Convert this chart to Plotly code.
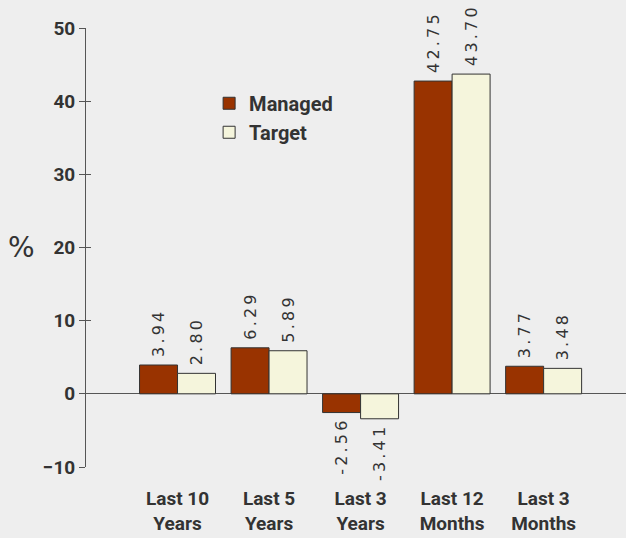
import plotly.graph_objects as go

categories = ["Last 10<br>Years", "Last 5<br>Years", "Last 3<br>Years", "Last 12<br>Months", "Last 3<br>Months"]
managed = [3.94, 6.29, -2.56, 42.75, 3.77]
target = [2.80, 5.89, -3.41, 43.70, 3.48]
y_ticks = [-10, 0, 10, 20, 30, 40, 50]

BG = "#eeeeee"
INK = "#333333"
AXIS = "#555555"
TICK_FONT = "Roboto, Liberation Sans, sans-serif"
PAD = "\u00a0"
GAP = "\u2009"


def spaced(values, fmt):
    # letter-spaced value labels, padded so they sit a little off the bar end
    return [PAD + GAP.join(fmt.format(v)) + PAD for v in values]


label_font = dict(family="DejaVu Sans, sans-serif", size=16, color=INK)

fig = go.Figure()
fig.add_trace(go.Bar(
    name="Managed", x=categories, y=managed,
    marker=dict(color="#993300", line=dict(color=INK, width=1)),
    text=spaced(managed, "{:.2f}"), textposition="outside", textangle=-90,
    textfont=label_font, cliponaxis=False, constraintext="none",
))
fig.add_trace(go.Bar(
    name="Target", x=categories, y=target,
    marker=dict(color="#f5f5dc", line=dict(color=INK, width=1)),
    text=spaced(target, "{:.2f}"), textposition="outside", textangle=-90,
    textfont=label_font, cliponaxis=False, constraintext="none",
))
# invisible trace to carry the inner half of the cross ticks
fig.add_trace(go.Scatter(x=[categories[0]], y=[0], yaxis="y2", mode="markers",
                         marker=dict(opacity=0), showlegend=False, hoverinfo="skip"))

fig.update_layout(
    width=626, height=538,
    margin=dict(l=86, r=0, t=28, b=71),
    paper_bgcolor=BG, plot_bgcolor=BG,
    barmode="group", bargap=0.17, bargroupgap=0,
    font=dict(family=TICK_FONT, color=INK),
    legend=dict(
        x=0.228, y=0.873, xanchor="left", yanchor="top",
        bgcolor="rgba(0,0,0,0)",
        font=dict(family=TICK_FONT, size=20, color=INK, weight="bold"),
        itemwidth=30, traceorder="normal",
    ),
    xaxis=dict(
        type="category", range=[-1, 4.9],
        showline=False, showgrid=False, zeroline=False, ticks="",
        tickfont=dict(family=TICK_FONT, size=19, color=INK, weight="bold"),
        ticklabelstandoff=18,
    ),
    yaxis=dict(
        range=[-10, 50], tickvals=y_ticks,
        showline=True, linecolor=AXIS, linewidth=1,
        showgrid=False, zeroline=True, zerolinecolor=AXIS, zerolinewidth=1,
        ticks="outside", ticklen=6, tickcolor=AXIS,
        tickfont=dict(family=TICK_FONT, size=19, color=INK, weight="bold"),
    ),
    yaxis2=dict(
        range=[-10, 50], tickvals=y_ticks, overlaying="y", side="left",
        showline=False, showgrid=False, zeroline=False,
        ticks="inside", ticklen=5, tickcolor=AXIS, showticklabels=False,
    ),
    annotations=[dict(
        text="%", xref="paper", yref="paper", x=-0.12, y=0.5,
        xanchor="center", yanchor="middle", showarrow=False,
        font=dict(family="DejaVu Sans, sans-serif", size=28, color=INK),
    )],
)

fig.write_html("out.html")
